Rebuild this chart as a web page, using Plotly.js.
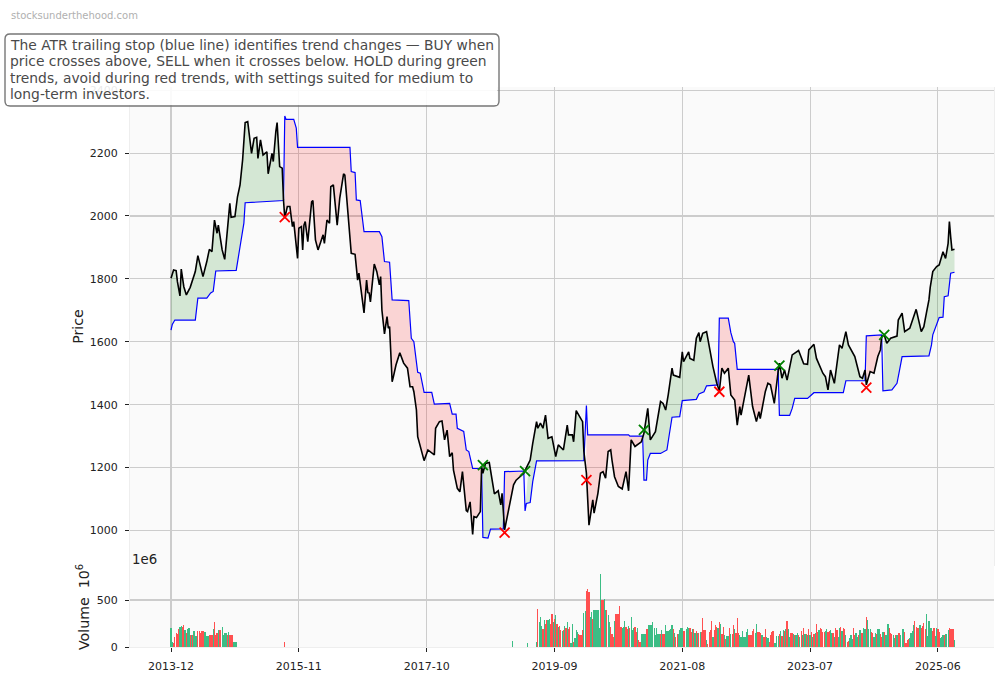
<!DOCTYPE html>
<html>
<head>
<meta charset="utf-8">
<script src="https://cdn.plot.ly/plotly-3.0.1.min.js"></script>
<style>html,body{margin:0;padding:0;background:#fff}#chart{width:1004px;height:678px}</style>
</head>
<body>
<div id="chart"></div>
<script>
// Weekly samples: week number counted from 2013-12.
const tickWeeks = [0,100,200,300,400,500,600];
const tickLabels = ['2013-12','2015-11','2017-10','2019-09','2021-08','2023-07','2025-06'];

const priceWeeks = [0,2,4,5,7,8,10,12,15,19,21,25,28,30,32,34,36,37,40,42,46,47,50,52,54,56,58,60,63,65,67,68,70,72,75,76,79,80,82,83,85,87,88,89,91,93,95,96,99,100,102,103,104,105,107,110,111,113,115,119,120,122,124,125,127,130,132,135,136,141,144,146,147,151,153,154,155,156,159,161,163,164,165,167,169,170,171,173,174,176,179,182,185,187,189,190,192,193,198,201,206,207,210,212,214,216,218,220,221,224,226,228,231,232,234,236,237,239,242,243,244,246,249,251,253,256,258,259,261,268,270,276,280,281,283,286,287,289,291,293,295,298,301,303,307,310,311,314,315,317,322,323,325,327,330,331,334,336,338,340,342,344,345,347,350,353,356,358,360,363,368,370,373,375,379,383,385,387,389,392,393,398,400,401,405,406,409,411,413,414,416,419,424,426,427,429,431,433,436,438,441,443,445,446,452,455,458,460,461,465,467,469,472,475,476,478,480,482,484,486,491,494,495,498,499,503,505,510,512,514,516,519,523,525,528,530,535,539,541,543,544,547,550,553,555,556,558,560,563,568,569,572,574,578,581,583,587,589,591,593,594,596,599,601,604,606,608,609,610,611,613];
const priceValues = [1802,1828,1826,1791,1746,1831,1775,1749,1773,1823,1874,1807,1855,1894,1886,1987,1945,1971,1892,1862,2040,1996,1998,2061,2099,2178,2297,2300,2199,2247,2250,2183,2242,2194,2204,2134,2199,2173,2268,2297,2157,2152,2051,1993,2030,2030,1966,1982,1865,1961,1966,1892,1971,1982,1918,2045,2049,1924,1892,1940,1913,1987,1977,2093,2099,1971,2056,2134,2130,1881,1878,1796,1818,1692,1796,1756,1755,1727,1847,1823,1781,1807,1701,1625,1680,1643,1648,1473,1489,1526,1565,1532,1516,1457,1457,1441,1383,1298,1222,1256,1240,1325,1346,1348,1288,1319,1235,1247,1192,1134,1123,1187,1063,1060,1091,987,1044,1041,1060,1203,1182,1213,1216,1160,1116,1126,1081,1118,1002,1145,1160,1182,1213,1224,1277,1346,1325,1341,1325,1367,1293,1298,1235,1272,1256,1335,1304,1304,1282,1381,1346,1251,1182,1017,1097,1055,1118,1182,1187,1166,1251,1256,1224,1171,1140,1132,1187,1126,1288,1267,1282,1309,1388,1288,1314,1410,1404,1383,1431,1516,1494,1487,1568,1537,1568,1547,1541,1611,1629,1600,1627,1632,1521,1478,1468,1444,1516,1500,1516,1431,1415,1335,1394,1367,1494,1394,1346,1378,1356,1442,1468,1463,1404,1505,1532,1484,1510,1478,1516,1558,1572,1542,1530,1528,1574,1592,1547,1500,1489,1447,1510,1468,1590,1579,1632,1590,1553,1489,1484,1510,1463,1505,1500,1553,1574,1616,1622,1595,1611,1618,1669,1691,1632,1643,1680,1703,1632,1648,1691,1733,1773,1823,1839,1844,1886,1865,1913,1982,1934,1892,1894];

const stopWeeks = [0,1,3,19,21,28,31,33,35,51,54,57,58,88,89,90,96,98,99,140,141,144,145,148,151,163,165,167,171,173,186,188,190,193,195,198,204,206,218,220,223,224,229,231,233,236,243,244,248,250,260,261,276,277,278,281,283,284,286,323,325,326,358,359,369,370,372,373,375,383,388,390,392,398,400,411,413,417,419,428,429,436,438,440,441,443,475,476,484,486,488,498,500,503,526,528,543,544,556,557,564,568,570,572,593,595,596,599,601,604,605,608,610,613];
const stopValues = [1637,1655,1669,1669,1739,1739,1755,1760,1825,1827,1902,1977,2042,2049,2318,2307,2307,2279,2218,2218,2141,2138,2051,2049,1950,1950,1934,1855,1853,1733,1731,1611,1600,1503,1500,1439,1439,1402,1404,1370,1370,1325,1315,1256,1251,1197,1197,978,976,1004,1005,1187,1189,1062,1086,1089,1155,1176,1221,1222,1397,1304,1304,1300,1300,1160,1160,1224,1245,1245,1256,1309,1360,1362,1413,1417,1434,1441,1460,1463,1675,1675,1629,1600,1595,1512,1512,1366,1366,1388,1420,1420,1428,1438,1438,1476,1476,1619,1622,1444,1447,1468,1510,1553,1555,1590,1622,1653,1677,1678,1743,1746,1818,1821];

const upTrendStart = [0,244,277,370,476,557];
const upTrendEnd = [88,260,323,428,543,613];
const downTrendStart = [89,261,325,429,544];
const downTrendEnd = [243,276,369,475,556];

const buyWeeks = [244,277,370,476,558];
const buyPrices = [1208,1189,1320,1524,1622];
const sellWeeks = [89,261,325,429,544];
const sellPrices = [1996,993,1160,1441,1454];

// Volume in millions; a negative number marks a red (down) bar.
const volFirstWeek = 0;
const volFirst = [198,55,-40,-110,-145,-138,-190,215,222,-208,-233,180,-145,187,198,-127,127,-127,170,117,117,-170,-170,-152,-170,-170,155,162,117,117,-127,-124,-124,187,-268,-127,-145,180,-180,-180,208,127,145,145,-127,155,-127,-127,-127,50,50,50];
const volSingleWeeks = [89,267,279];
const volSingles = [-50,64,42];
const volMidWeek = 286;
const volMid = [49,-402,261,314,226,-190,286,-250,-286,286,300,-250,-356,268,-293,339,-243,215,-222,-180,173,-180,222,-205,261,-190,-210,39,250,-56,92,180,162,-134,-127,-127,-180,364,381,-597,-621,-590,314,374,-293,399,399,399,399,198,780,-505,-505,515,399,-399,339,268,-215,-138,-102,275,-346,-350,-356,-434,-215,198,208,275,-208,-187,222,-198,321,180,198,-208,-162,198,-74,-56,138,138,138,138,-190,-190,233,233,233,265,198,127,198,138,138,-138,180,-138,-138,233,169,169,180,187,233,-187,152,-109,-138,138,180,198,198,-173,-173,190,215,198,-198,-155,190,-187,145,-169,145,-145,155,-155,-304,-180,-180,74,-32,-162,-180,-275,102,-180,-233,-215,198,-268,250,-138,-215,127,-81,116,116,-198,138,-138,-233,187,-145,-311,-145,127,109,173,109,109,162,190,-127];
const volEndWeek = 453;
const volEnd = [-127,-127,-173,-190,152,243,-162,-155,-152,127,127,-109,-187,102,99,-56,-127,-162,-166,39,39,116,116,-138,169,-116,180,-169,190,-275,190,102,-152,-152,138,-127,127,145,-127,102,-173,127,-198,138,-138,127,-190,127,-162,102,-140,145,-240,-155,180,-198,-190,-155,-162,169,190,-155,-166,180,145,-145,102,-200,-180,102,198,-212,169,-200,-190,127,-55,-60,100,130,90,-205,-125,145,102,-125,180,-145,-145,200,190,-318,286,190,190,-160,-145,110,145,-135,190,190,-140,-110,155,-165,125,127,243,-200,-145,-140,127,100,-130,127,-145,-150,125,190,190,-165,-40,-75,-90,100,145,170,230,-275,-215,-205,-205,230,-205,-225,-260,-190,350,120,275,200,200,-170,-205,120,200,-190,-165,100,110,130,-125,135,135,180,-205,-195,-190,-190,74];

const titleLines = [
  'The ATR trailing stop (blue line) identifies trend changes \u2014 BUY when',
  'price crosses above, SELL when it crosses below. HOLD during green',
  'trends, avoid during red trends, with settings suited for medium to',
  'long-term investors.'
];

const FONT = 'DejaVu Sans, sans-serif';

function band(from, to, colour) {
  const xs = [], ys = [];
  priceWeeks.forEach((w, i) => { if (w >= from && w <= to) { xs.push(w); ys.push(priceValues[i]); } });
  for (let i = stopWeeks.length - 1; i >= 0; i--) {
    if (stopWeeks[i] >= from && stopWeeks[i] <= to) { xs.push(stopWeeks[i]); ys.push(stopValues[i]); }
  }
  return {x: xs, y: ys, type: 'scatter', mode: 'lines', fill: 'toself', fillcolor: colour,
          line: {width: 0}, hoverinfo: 'skip', showlegend: false};
}

const traces = [];
upTrendStart.forEach((s, i) => traces.push(band(s, upTrendEnd[i], 'rgba(0,128,0,0.15)')));
downTrendStart.forEach((s, i) => traces.push(band(s, downTrendEnd[i], 'rgba(255,0,0,0.15)')));
traces.push({x: stopWeeks, y: stopValues, type: 'scatter', mode: 'lines', line: {color: '#0000ff', width: 1.2}, showlegend: false});
traces.push({x: priceWeeks, y: priceValues, type: 'scatter', mode: 'lines', line: {color: '#000000', width: 1.6}, showlegend: false});
traces.push({x: buyWeeks, y: buyPrices, type: 'scatter', mode: 'markers',
  marker: {symbol: 'x-thin', size: 10, line: {color: '#008000', width: 1.8}}, showlegend: false});
traces.push({x: sellWeeks, y: sellPrices, type: 'scatter', mode: 'markers',
  marker: {symbol: 'x-thin', size: 10, line: {color: '#ff0000', width: 1.8}}, showlegend: false});

const volWeeks = [], volHeights = [], volColours = [];
function addVol(week, v) {
  volWeeks.push(week); volHeights.push(Math.abs(v)); volColours.push(v < 0 ? '#ff5050' : '#3cbd85');
}
volFirst.forEach((v, i) => addVol(volFirstWeek + i, v));
volSingles.forEach((v, i) => addVol(volSingleWeeks[i], v));
volMid.forEach((v, i) => addVol(volMidWeek + i, v));
volEnd.forEach((v, i) => addVol(volEndWeek + i, v));
traces.push({x: volWeeks, y: volHeights, type: 'bar', xaxis: 'x', yaxis: 'y2', width: 0.95,
  marker: {color: volColours, line: {width: 0}}, showlegend: false});

const annotations = [
  {xref: 'paper', yref: 'paper', x: (252 - 130) / 864, y: (647 - 70) / 560, xanchor: 'center', yanchor: 'middle',
   text: '\u00a0', showarrow: false, width: 490, height: 69, bgcolor: 'rgba(255,255,255,0.9)', borderwidth: 0, borderpad: 0},
  {xref: 'paper', yref: 'paper', x: (9 - 130) / 864, y: (647 - 15) / 560, xanchor: 'left', yanchor: 'middle',
   text: 'stocksunderthehood.com', showarrow: false, font: {family: FONT, size: 10, color: '#b0b0b0'}},
  {xref: 'paper', yref: 'paper', x: (130 - 130) / 864, y: (647 - 559) / 560, xanchor: 'left', yanchor: 'middle',
   text: '1e6', showarrow: false, font: {family: FONT, size: 13.3, color: '#222'}},
  {xref: 'paper', yref: 'paper', x: (83 - 130) / 864, y: (647 - 607) / 560, xanchor: 'center', yanchor: 'middle',
   text: 'Volume  10<sup>6</sup>', textangle: -90, showarrow: false, font: {family: FONT, size: 14.2, color: '#222'}}
];
const lineY = [45, 61, 78, 94];
titleLines.forEach((t, i) => annotations.push({
  xref: 'paper', yref: 'paper', x: (7.5 - 130) / 864, y: (647 - lineY[i]) / 560, xanchor: 'left', yanchor: 'middle',
  text: t, showarrow: false, font: {family: FONT, size: 13.85, color: '#4a4a4a'}
}));

// Rounded caption border in paper coordinates.
function px(x) { return (x - 130) / 864; }
function py(y) { return (647 - y) / 560; }
const L = 5, R = 499, T = 34, B = 106, C = 5;
const boxPath = `M ${px(L + C)} ${py(T)} L ${px(R - C)} ${py(T)} Q ${px(R)} ${py(T)} ${px(R)} ${py(T + C)} ` +
  `L ${px(R)} ${py(B - C)} Q ${px(R)} ${py(B)} ${px(R - C)} ${py(B)} L ${px(L + C)} ${py(B)} ` +
  `Q ${px(L)} ${py(B)} ${px(L)} ${py(B - C)} L ${px(L)} ${py(T + C)} Q ${px(L)} ${py(T)} ${px(L + C)} ${py(T)} Z`;

const gridColour = '#cccccc';
const layout = {
  width: 1004, height: 678, autosize: false, showlegend: false, hovermode: false,
  paper_bgcolor: '#ffffff', plot_bgcolor: '#fafafa',
  margin: {l: 130, r: 10, t: 87, b: 31, pad: 0},
  font: {family: FONT, size: 11, color: '#222'},
  bargap: 0,
  xaxis: {anchor: 'y2', range: [-32.1, 643.9], tickmode: 'array', tickvals: tickWeeks, ticktext: tickLabels,
    ticks: 'outside', ticklen: 3.5, tickcolor: '#222', tickwidth: 1, showgrid: true, gridcolor: gridColour, gridwidth: 1.1,
    zeroline: false, showline: true, linecolor: '#eeeeee', linewidth: 1, ticklabelstandoff: 5,
    tickfont: {family: FONT, size: 11, color: '#222'}},
  yaxis: {domain: [81 / 560, 1], range: [887, 2410], tickmode: 'array', tickvals: [1000,1200,1400,1600,1800,2000,2200,2400],
    ticktext: ['1000','1200','1400','1600','1800','2000','2200','2400'],
    ticks: 'outside', ticklen: 4, tickcolor: '#222', tickwidth: 1, showgrid: true, gridcolor: gridColour, gridwidth: 1.1,
    zeroline: false, showline: true, linecolor: '#eeeeee', linewidth: 1, mirror: true, ticklabelstandoff: 5,
    tickfont: {family: FONT, size: 11, color: '#222'},
    title: {text: 'Price', font: {family: FONT, size: 14.2, color: '#222'}, standoff: 2}},
  yaxis2: {domain: [0, 81 / 560], range: [0, 862], tickmode: 'array', tickvals: [0, 500], ticktext: ['0', '500'],
    ticks: 'outside', ticklen: 4, tickcolor: '#222', tickwidth: 1, showgrid: true, gridcolor: gridColour, gridwidth: 1.1,
    zeroline: false, showline: true, linecolor: '#eeeeee', linewidth: 1, ticklabelstandoff: 5,
    tickfont: {family: FONT, size: 11, color: '#222'}},
  annotations: annotations,
  shapes: [{type: 'path', xref: 'paper', yref: 'paper', path: boxPath, layer: 'above',
    line: {color: '#777777', width: 1.4}, fillcolor: 'rgba(0,0,0,0)'}]
};
Plotly.newPlot('chart', traces, layout, {displayModeBar: false, staticPlot: true});
</script>
</body>
</html>
